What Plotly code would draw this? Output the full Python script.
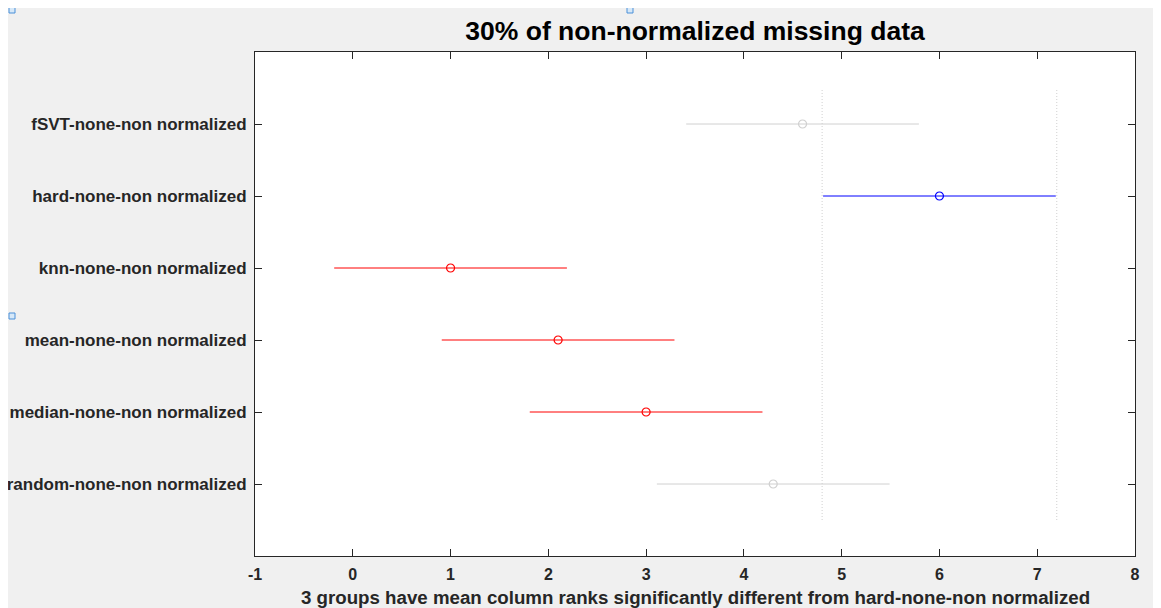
import plotly.graph_objects as go

groups = ["fSVT-none-non normalized", "hard-none-non normalized", "knn-none-non normalized",
          "mean-none-non normalized", "median-none-non normalized", "random-none-non normalized"]
means = [4.6, 6.0, 1.0, 2.1, 3.0, 4.3]
half_width = [1.19, 1.19, 1.19, 1.19, 1.19, 1.19]
group_colors = ["#d0d0d0", "#0000ff", "#ff0000", "#ff0000", "#ff0000", "#d0d0d0"]
ref_lo, ref_hi = 4.8, 7.2
x_ticks = [-1, 0, 1, 2, 3, 4, 5, 6, 7, 8]

n = len(groups)
ypos = [n - i for i in range(n)]

W, H = 1153, 600
L, R, T, B = 247, 26, 44, 52
PW, PH = W - L - R, H - T - B

fig = go.Figure()
for g, m, h, c, y in zip(groups, means, half_width, group_colors, ypos):
    fig.add_trace(go.Scatter(x=[m - h, m + h], y=[y, y], mode="lines",
                             line=dict(color=c, width=1), showlegend=False, hoverinfo="skip"))
    fig.add_trace(go.Scatter(x=[m], y=[y], mode="markers", name=g,
                             marker=dict(symbol="circle-open", size=8, color=c, line=dict(width=1.2)),
                             showlegend=False))

for xv in (ref_lo, ref_hi):
    fig.add_trace(go.Scatter(x=[xv, xv], y=[0.5, n + 0.5], mode="lines",
                             line=dict(color="#d0d0d0", width=1, dash="1px,2px"),
                             showlegend=False, hoverinfo="skip"))

# small editor handle squares (figure pixel positions)
for (px, py) in [(4, 2), (622, 2), (4, 308)]:
    fig.add_shape(type="rect", xref="paper", yref="paper",
                  x0=(px - 3 - L) / PW, x1=(px + 3 - L) / PW,
                  y0=(H - B - (py + 3)) / PH, y1=(H - B - (py - 3)) / PH,
                  line=dict(color="#4a90d9", width=1), fillcolor="#d6e8f8")

fig.add_annotation(text="<b>3 groups have mean column ranks significantly different from hard-none-non normalized</b>",
                   xref="paper", yref="paper", x=0.5, y=-41 / PH, xanchor="center", yanchor="middle",
                   showarrow=False, font=dict(size=18.7, color="#262626"))

fig.update_layout(
    width=W, height=H,
    margin=dict(l=L, r=R, t=T, b=B, autoexpand=False),
    paper_bgcolor="#f0f0f0", plot_bgcolor="#ffffff",
    font=dict(family="Liberation Sans, Arial, sans-serif", color="#262626"),
    title=dict(text="<b>30% of non-normalized missing data</b>", x=0.5, xref="paper", xanchor="center",
               y=1 - 23 / H, yanchor="middle", font=dict(size=26.5, color="#000000"), automargin=False),
    xaxis=dict(range=[-1, 8], tickvals=x_ticks, ticktext=[f"<b>{v}</b>" for v in x_ticks],
               ticks="inside", ticklen=7, tickcolor="#262626", showgrid=False, zeroline=False,
               showline=True, linecolor="#262626", linewidth=1, mirror="ticks", automargin=False,
               tickfont=dict(size=16, color="#262626"), ticklabelstandoff=4),
    yaxis=dict(range=[0, n + 1], tickvals=ypos, ticktext=[f"<b>{g}</b>" for g in groups],
               ticks="inside", ticklen=7, tickcolor="#262626", showgrid=False, zeroline=False,
               showline=True, linecolor="#262626", linewidth=1, mirror="ticks", automargin=False,
               tickfont=dict(size=17, color="#262626"), ticklabelstandoff=4),
)

fig.write_html("out.html")
